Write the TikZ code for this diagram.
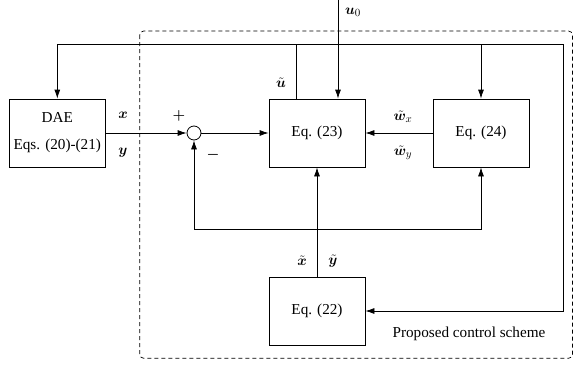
\documentclass[tikz,border=0pt]{standalone}
\usepackage{amsmath}
\usepackage{bm}
\usepackage[no-math]{fontspec}
\setmainfont{Liberation Serif}
\usetikzlibrary{arrows.meta}
\tikzset{
  blk/.style={draw, line width=0.8pt, minimum width=96pt, minimum height=68pt, inner sep=0pt, align=center},
  sumc/.style={draw, circle, line width=0.8pt, minimum size=14pt, inner sep=0pt},
  wire/.style={line width=0.8pt},
  arr/.style={line width=0.8pt, -{Latex[length=9pt,width=6pt]}},
  lbl/.style={inner sep=0pt},
  frame/.style={line width=0.7pt, dash pattern=on 4pt off 3pt, rounded corners=4pt}
}
\begin{document}
\begin{tikzpicture}[x=1pt,y=-1pt, font=\fontsize{15.2}{19}\selectfont]
\useasboundingbox (0,0) rectangle (574,367);
\draw[frame] (139.7,31) rectangle (572.5,358.3);
\node[blk, minimum width=96.5pt] (dae) at (57.3,133) {DAE\\[8pt]Eqs. (20)-(21)};
\node[blk] (eq23) at (317,133) {Eq. (23)};
\node[blk] (eq24) at (481,133) {Eq. (24)};
\node[blk] (eq22) at (317,311) {Eq. (22)};
\node[sumc] (sum) at (194,133) {};
\coordinate (u0) at (338,0);
\coordinate (ut) at (296,44);
\coordinate (tr) at (563,44);
\coordinate (fbl) at (194,229);
\coordinate (fbr) at (481,229);
% forward path
\draw[arr] (dae.east) -- (sum.west);
\draw[arr] (sum.east) -- (eq23.west);
\draw[arr] (eq24.west) -- (eq23.east);
\draw[arr] (u0) -- (u0 |- eq23.north);
% top loop
\draw[wire] (ut |- eq23.north) -- (ut);
\draw[arr] (ut) -| (dae.north);
\draw[arr] (ut) -- (tr) |- (eq22.east);
\draw[arr] (eq24.north |- ut) -- (eq24.north);
% bottom feedback
\draw[arr] (eq22.north) -- (eq23.south);
\draw[arr] (fbr) -- (fbl) -- (sum.south);
\draw[arr] (fbl) -- (fbr) -- (eq24.south);
% labels
\node[lbl] (lx) at (123,115) {$\bm{x}$};
\node[lbl] (ly) at (123,153) {$\bm{y}$};
\node[lbl] (lp) at (179,116) {$\bm{+}$};
\node[lbl] (lm) at (213,155) {$\bm{-}$};
\node[lbl] (lu) at (281,83) {$\tilde{\bm{u}}$};
\node[lbl] (lu0) at (353,12) {$\bm{u}_0$};
\node[lbl] (lwx) at (403,117) {$\tilde{\bm{w}}_x$};
\node[lbl] (lwy) at (403,153) {$\tilde{\bm{w}}_y$};
\node[lbl] (lxt) at (302,261) {$\tilde{\bm{x}}$};
\node[lbl] (lyt) at (333,261) {$\tilde{\bm{y}}$};
\node[lbl] (lpc) at (469,334) {Proposed control scheme};
\end{tikzpicture}
\end{document}
